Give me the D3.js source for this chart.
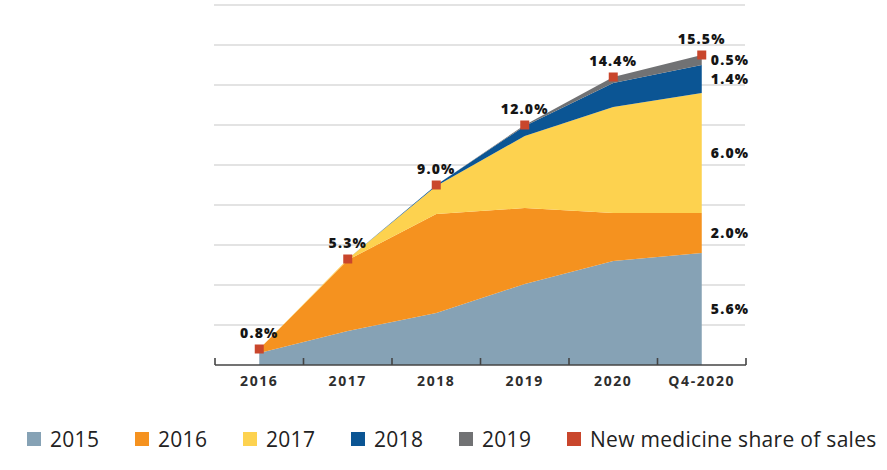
<!DOCTYPE html>
<html>
<head>
<meta charset="utf-8">
<script src="https://cdn.jsdelivr.net/npm/d3@7"></script>
<style>
  html, body { margin: 0; padding: 0; background: #fff; }
  svg { display: block; font-family: "Open Sans", sans-serif; }
</style>
</head>
<body>
<svg id="chart" width="887" height="470"></svg>
<script>
// ---- data ----
const categories = ["2016", "2017", "2018", "2019", "2020", "Q4-2020"];
const seriesNames = ["2015", "2016", "2017", "2018", "2019"];
const s2015 = [0.6, 1.7, 2.6, 4.05, 5.2, 5.6];
const s2016 = [0.2, 3.55, 4.95, 3.8, 2.4, 2.0];
const s2017 = [0, 0.05, 1.4, 3.6, 5.3, 6.0];
const s2018 = [0, 0, 0.05, 0.5, 1.2, 1.4];
const s2019 = [0, 0, 0, 0.05, 0.3, 0.5];
const shareOfSales = [0.8, 5.3, 9.0, 12.0, 14.4, 15.5];
const yTicks = [0, 2, 4, 6, 8, 10, 12, 14, 16, 18];
const legendLabels = ["2015", "2016", "2017", "2018", "2019", "New medicine share of sales"];

// ---- styles ----
const colors = ["#86a2b5", "#f5921f", "#fdd24f", "#0b5594", "#717274"];
const markerColor = "#c9462c";

const svg = d3.select("#chart");

const x = d3.scaleBand().domain(categories).range([215, 746]).padding(0);
const y = d3.scaleLinear().domain([0, 18]).range([365, 5]);
const cx = d => x(d) + x.bandwidth() / 2;

// table for stacking
const seriesArrays = [s2015, s2016, s2017, s2018, s2019];
const table = categories.map((c, i) => {
  const row = { cat: c };
  seriesNames.forEach((n, k) => row[n] = seriesArrays[k][i]);
  return row;
});
const stacked = d3.stack().keys(seriesNames)(table);

// gridlines
svg.append("g").selectAll("line").data(yTicks.filter(t => t > 0)).join("line")
  .attr("x1", 214).attr("x2", 745)
  .attr("y1", d => y(d)).attr("y2", d => y(d))
  .attr("stroke", "#dadada").attr("stroke-width", 1.6);

// areas
const area = d3.area()
  .x(d => cx(d.data.cat))
  .y0(d => y(d[0]))
  .y1(d => y(d[1]));
svg.append("g").selectAll("path").data(stacked).join("path")
  .attr("d", area)
  .attr("fill", (d, i) => colors[i]);

// axis line and ticks at band boundaries
const axisG = svg.append("g");
axisG.append("line")
  .attr("x1", x.range()[0]).attr("x2", x.range()[1])
  .attr("y1", y(0)).attr("y2", y(0))
  .attr("stroke", "#444").attr("stroke-width", 1.6);
const boundaries = categories.map(c => x(c)).concat([x.range()[1]]);
axisG.selectAll("line.tk").data(boundaries).join("line").attr("class", "tk")
  .attr("x1", d => d).attr("x2", d => d)
  .attr("y1", y(0)).attr("y2", y(0) - 7)
  .attr("stroke", "#444").attr("stroke-width", 1.6);

// category labels via axis
const xAxis = d3.axisBottom(x).tickSize(0).tickPadding(0);
const xg = svg.append("g").attr("transform", `translate(0,${y(0)})`).call(xAxis);
xg.select(".domain").remove();
xg.selectAll("text")
  .attr("y", 21).attr("dy", 0)
  .style("font-family", "Open Sans")
  .style("font-size", "14px")
  .style("font-weight", 700)
  .style("letter-spacing", "1.6px")
  .attr("fill", "#2e2e2e");

// markers
const ms = 9;
svg.append("g").selectAll("rect").data(shareOfSales).join("rect")
  .attr("x", (d, i) => cx(categories[i]) - ms / 2)
  .attr("y", d => y(d) - ms / 2)
  .attr("width", ms).attr("height", ms)
  .attr("fill", markerColor);

const fmt = d3.format(".1f");
// total labels
svg.append("g").selectAll("text").data(shareOfSales).join("text")
  .attr("x", (d, i) => cx(categories[i]))
  .attr("y", d => y(d) - 11)
  .attr("text-anchor", "middle")
  .style("font-size", "14px").style("font-weight", 800)
  .style("letter-spacing", "1.2px")
  .attr("fill", "#151515")
  .text(d => fmt(d) + "%");

// right-side segment labels for last category
const lastIdx = categories.length - 1;
const lastX = cx(categories[lastIdx]);
svg.append("g").selectAll("text").data(stacked).join("text")
  .attr("x", lastX + 9)
  .attr("y", d => y((d[lastIdx][0] + d[lastIdx][1]) / 2) + 5)
  .attr("text-anchor", "start")
  .style("font-size", "14px").style("font-weight", 800)
  .style("letter-spacing", "1.2px")
  .attr("fill", "#151515")
  .text(d => fmt(d[lastIdx][1] - d[lastIdx][0]) + "%");

// legend
const legendColors = colors.concat([markerColor]);
const lg = svg.append("g");
legendLabels.forEach((lab, i) => {
  const lx = 27 + i * 108;
  lg.append("rect").attr("x", lx).attr("y", 432).attr("width", 14).attr("height", 14)
    .attr("fill", legendColors[i]);
  lg.append("text").attr("x", lx + 23).attr("y", 446.5)
    .style("font-size", "21px").style("font-weight", 400)
    .style("letter-spacing", "0.3px")
    .attr("fill", "#222")
    .text(lab);
});
</script>
</body>
</html>
